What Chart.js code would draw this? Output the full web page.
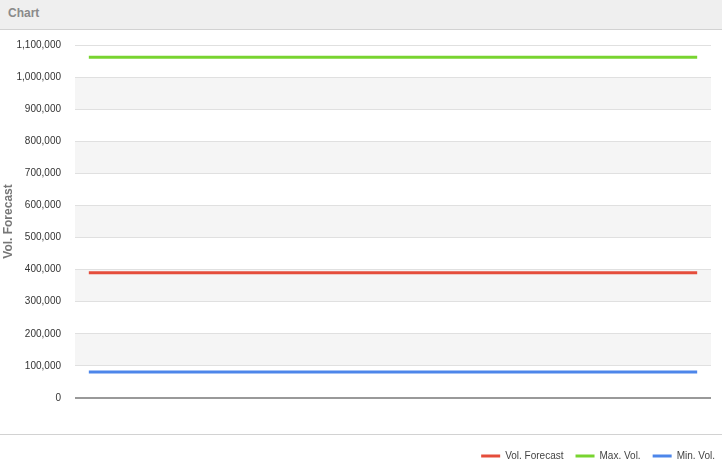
<!DOCTYPE html>
<html>
<head>
<meta charset="utf-8">
<script src="https://cdn.jsdelivr.net/npm/chart.js@4"></script>
<style>
    body { margin: 0; background: #fff; font-family: "Liberation Sans", Arial, sans-serif; }
    #header {
        height: 29px;
        line-height: 27px;
        background: #efefef;
        border-bottom: 1px solid #d2d2d2;
        color: #8a8a8a;
        font-weight: bold;
        font-size: 12px;
        padding-left: 8px;
    }
    #wrap { position: relative; width: 722px; height: 445px; }
</style>
</head>
<body>
<div id="header">Chart</div>
<div id="wrap"><canvas id="chart"></canvas></div>
<script>

// 23 periods along the x axis, labels are not shown
const periods = ['P1','P2','P3','P4','P5','P6','P7','P8','P9','P10','P11','P12',
    'P13','P14','P15','P16','P17','P18','P19','P20','P21','P22','P23'];

const volForecast = [390000,390000,390000,390000,390000,390000,390000,390000,390000,390000,390000,390000,
    390000,390000,390000,390000,390000,390000,390000,390000,390000,390000,390000];
const maxVol = [1062000,1062000,1062000,1062000,1062000,1062000,1062000,1062000,1062000,1062000,1062000,1062000,
    1062000,1062000,1062000,1062000,1062000,1062000,1062000,1062000,1062000,1062000,1062000];
const minVol = [81000,81000,81000,81000,81000,81000,81000,81000,81000,81000,81000,81000,
    81000,81000,81000,81000,81000,81000,81000,81000,81000,81000,81000];

const seriesNames = ['Vol. Forecast', 'Max. Vol.', 'Min. Vol.'];
const seriesColors = ['#e54d3b', '#78d430', '#4d86ea'];

const yMin = 0;
const yMax = 1100000;
const yStep = 100000;

const fontFamily = '"Liberation Sans", Arial, sans-serif';

// alternate grey bands behind the grid
const bandPlugin = {
    id: 'bands',
    beforeDraw(chart) {
        const ctx = chart.ctx;
        const area = chart.chartArea;
        const y = chart.scales.y;
        ctx.save();
        ctx.fillStyle = '#f5f5f5';
        for (let v = yMin + yStep; v < yMax; v += yStep * 2) {
            const top = y.getPixelForValue(v + yStep);
            const bottom = y.getPixelForValue(v);
            ctx.fillRect(area.left, top, area.right - area.left, bottom - top);
        }
        ctx.restore();
    },
    afterDraw(chart) {
        // separator line above the legend
        const ctx = chart.ctx;
        const yy = Math.round(chart.chartArea.bottom) + 36.5;
        ctx.save();
        ctx.strokeStyle = '#d2d2d2';
        ctx.lineWidth = 1;
        ctx.beginPath();
        ctx.moveTo(0, yy);
        ctx.lineTo(chart.width, yy);
        ctx.stroke();
        ctx.restore();
    }
};

function makeDataset(i, values) {
    return {
        label: seriesNames[i],
        data: values,
        borderColor: seriesColors[i],
        backgroundColor: seriesColors[i],
        borderWidth: 3,
        pointRadius: 0,
        pointHoverRadius: 0,
        pointStyle: 'line',
        tension: 0
    };
}

const ctx = document.getElementById('chart').getContext('2d');
const chart = new Chart(ctx, {
    type: 'line',
    data: {
        labels: periods,
        datasets: [
            makeDataset(0, volForecast),
            makeDataset(1, maxVol),
            makeDataset(2, minVol)
        ]
    },
    options: {
        responsive: true,
        maintainAspectRatio: false,
        animation: false,
        layout: { padding: { top: 15, right: -5, bottom: 4, left: 0 } },
        plugins: {
            tooltip: { enabled: false },
            legend: {
                position: 'bottom',
                align: 'end',
                labels: {
                    usePointStyle: true,
                    pointStyleWidth: 19,
                    boxHeight: 10,
                    padding: 12,
                    color: '#444',
                    font: { family: fontFamily, size: 10 }
                }
            }
        },
        scales: {
            x: {
                offset: true,
                grid: { display: false },
                border: { display: false },
                ticks: { display: false },
                afterFit(scale) { scale.height = 41; }
            },
            y: {
                min: yMin,
                max: yMax,
                border: { display: false },
                grid: {
                    drawTicks: false,
                    color: (c) => c.tick && c.tick.value === 0 ? '#999999' : '#e0e0e0',
                    lineWidth: (c) => c.tick && c.tick.value === 0 ? 2 : 1
                },
                ticks: {
                    stepSize: yStep,
                    padding: 14,
                    color: '#333',
                    font: { family: fontFamily, size: 10 },
                    callback: (v) => v.toLocaleString('en-US')
                },
                title: {
                    display: true,
                    text: 'Vol. Forecast',
                    color: '#777',
                    padding: { top: 1, bottom: 3 },
                    font: { family: fontFamily, size: 12, weight: 'bold' }
                },
                afterFit(scale) {
                    scale.width = 75;
                    scale.paddingTop = 0;
                    scale.paddingBottom = 0;
                }
            },
            // empty axis that keeps the plot clear of the right edge
            yRight: {
                position: 'right',
                display: true,
                grid: { display: false },
                border: { display: false },
                ticks: { display: false },
                afterFit(scale) { scale.width = 16; }
            }
        }
    },
    plugins: [bandPlugin]
});
</script>
</body>
</html>
